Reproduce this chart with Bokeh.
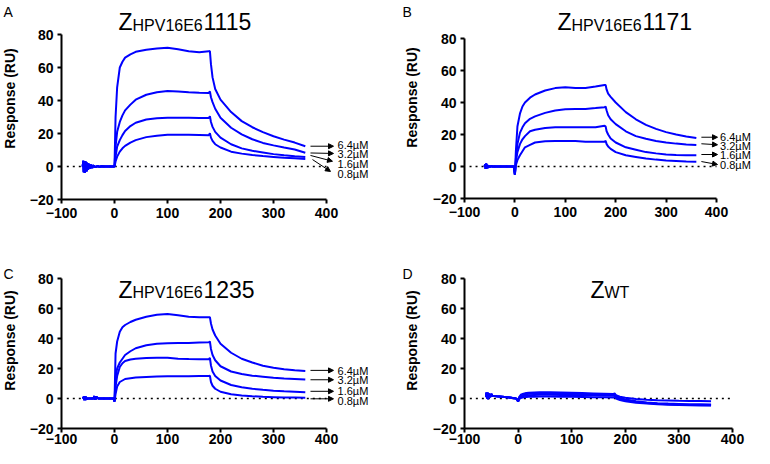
import math
from bokeh.plotting import figure
from bokeh.layouts import row, column
from bokeh.models import Range1d, FixedTicker, Label, Arrow, NormalHead, LinearAxis
from bokeh.embed import file_html
from bokeh.resources import INLINE

FONT = "Liberation Sans"
BLUE = "#0000FF"

# ---------------- data ----------------
x_ticks = [-100, 0, 100, 200, 300, 400]
y_ticks = [-20, 0, 20, 40, 60, 80]
x_limits = (-100, 400)
y_limits = (-20, 80)
zero_line_x = (-90, 400)
y_title = "Response (RU)"

conc_labels = ["6.4\u00b5M", "3.2\u00b5M", "1.6\u00b5M", "0.8\u00b5M"]

# time points of association (0-178 s) and dissociation (180-360 s)
t_kin = [0, 2, 5, 10, 15, 20, 30, 40, 60, 80, 100, 120, 140, 160, 178,
         180, 182, 185, 190, 200, 220, 240, 260, 280, 300, 320, 340, 360]

# Panel A  Z_HPV16E6 1115
a_base_t = [-60, -59, -58, -57, -56, -55, -54, -53, -52, -51, -50, -48, -46, -44,
            -42, -40, -36, -32, -28, -24, -20, -10, -2]
a_base_v = [0, 3.5, -3.5, 3, -3.8, 3.2, -3, 2.5, -2.8, 2, -2, 1.5, -1.2, 1,
            -0.8, 0.6, -0.4, 0.3, -0.2, 0.1, 0, 0, 0]
a_64 = [0, 30, 48, 60, 63.5, 66, 68, 69.5, 70.8, 71.5, 72, 71, 69.8, 69.3, 69.8,
        70, 62, 54, 47, 40.5, 33, 27.5, 23.8, 20.8, 18.3, 16.3, 14.5, 12.3]
a_32 = [0, 12, 21, 27, 31, 34, 37.5, 40.5, 43.5, 45, 45.7, 45.5, 45, 44.7, 44.6,
        45.5, 42, 39, 35, 29.5, 23.5, 19.5, 16.5, 14.3, 12.8, 11.5, 10.3, 8.3]
a_16 = [0, 6, 12, 16, 19, 21.5, 24.5, 26.5, 28.5, 29.3, 29.5, 29.5, 29.5, 29.4, 29.4,
        30.5, 27, 24, 21, 17.5, 13.5, 11, 9.5, 8.5, 7.5, 6.8, 6.2, 5.7]
a_08 = [0, 3, 6, 9, 11, 12.5, 14.5, 16, 17.8, 18.7, 19.2, 19.2, 19.2, 19.1, 19,
        20.2, 17.5, 15.5, 13.5, 11.5, 9, 7.8, 7, 6.3, 5.8, 5.3, 5, 4.6]

# Panel B  Z_HPV16E6 1171
b_base_t = [-60, -59, -58, -57, -56, -55, -54, -52, -50, -47, -45, -40, -20, -5, -2]
b_base_v = [0, 1.5, -1.5, 1.8, -1.2, 1, -0.8, 0.5, -0.3, 0.3, 0, 0, 0, 0, 0]
b_64 = [-5, 10, 25, 33, 37.5, 40, 43, 45, 47.5, 49, 49.5, 49, 49, 50, 51,
        51, 48, 45.5, 43.5, 40, 34, 29.5, 26, 23.5, 21.5, 20, 18.8, 17.8]
b_32 = [-5, 5, 14, 21, 24.5, 27, 29.8, 31.3, 33.5, 35, 35.8, 36, 36, 36.5, 37,
        37.5, 35, 32, 29.5, 26.5, 22, 19, 17.3, 16, 15, 14.3, 13.8, 13.5]
b_16 = [-5, 3, 9, 14, 17, 19, 22, 23, 24, 24.5, 24.5, 24.5, 24.5, 24.5, 25.5,
        25, 22, 20, 17.5, 15, 12, 10.5, 9, 8.2, 7.5, 7.2, 7, 7]
b_08 = [-5, 1, 4, 7, 9.5, 12, 13.5, 15, 15.8, 16, 16, 16, 15.5, 15.5, 15.5,
        16, 14, 12.5, 11, 9, 7, 6, 5, 4.3, 3.8, 3.5, 3.2, 3]

# Panel C  Z_HPV16E6 1235
c_base_t = [-60, -58, -57, -56, -55, -54, -52, -50, -45, -40, -38, -37, -36, -35,
            -34, -30, -20, -5, -2]
c_base_v = [0, 1, -1, 1.5, -1, 1, -0.5, 0, 0, 0, 1.5, -0.8, 1.5, -0.5,
            1, 0, 0, 0, 0]
c_64 = [-2, 30, 38, 44.5, 47.5, 49, 51, 52.5, 54.5, 55.8, 56.3, 55.5, 54.5, 54.2, 54.2,
        54.2, 50, 46, 42, 36.5, 30.5, 26.5, 24, 21.8, 20.5, 19.5, 18.8, 18.3]
c_32 = [-2, 14, 20, 24, 26.5, 29, 31.5, 33.5, 35.5, 36.5, 36.8, 37, 37, 37.3, 37.5,
        38, 33, 29, 25.5, 21.5, 18, 16.3, 15.2, 14.5, 13.8, 13.3, 13, 12.6]
c_16 = [-2, 8, 15, 21, 23.5, 25, 26, 26.5, 27, 27.2, 27.2, 26.5, 26.3, 26.2, 26.2,
        27, 22, 18, 15, 12, 9, 7.5, 6.5, 5.8, 5.2, 4.8, 4.5, 4.2]
c_08 = [-2, 3, 8, 11, 12, 13, 13.5, 14, 14.3, 14.6, 14.8, 14.8, 14.8, 15, 15,
        15.3, 11, 8.5, 6.5, 4.5, 2.8, 2, 1.5, 1.1, 0.9, 0.7, 0.6, 0.5]

# Panel D  Z_WT
d_base_t = [-60, -59, -58, -57, -56, -55, -54, -53, -52, -50, -48, -40, -30, -20,
            -10, -4, -2]
d_base_v = [1, 4, 0, 4, -0.5, 3.5, 0.5, 3, 1, 3, 1.8, 1.5, 1.2, 0.8,
            0.4, 0, -0.5]
d_1 = [-2, 1, 2.5, 3.2, 3.6, 3.8, 4, 4.1, 4.1, 4, 3.8, 3.6, 3.4, 3.2, 3,
       3.5, 2.5, 1.8, 1.2, 0.5, -0.3, -0.8, -1.1, -1.3, -1.5, -1.6, -1.7, -1.8]
d_2 = [-2, 0.5, 1.8, 2.5, 2.9, 3.1, 3.3, 3.4, 3.4, 3.3, 3.2, 3, 2.8, 2.6, 2.5,
       3, 1.8, 1, 0.3, -0.6, -1.8, -2.6, -3.1, -3.4, -3.6, -3.8, -3.9, -4.0]
d_3 = [-2, 0, 1, 1.7, 2, 2.2, 2.4, 2.5, 2.5, 2.4, 2.3, 2.2, 2.1, 2, 1.9,
       2.3, 1.2, 0.5, -0.2, -1, -2.2, -3, -3.5, -3.9, -4.1, -4.3, -4.4, -4.5]
d_4 = [-2, -0.5, 0.3, 0.8, 1, 1.1, 1.2, 1.3, 1.3, 1.2, 1.1, 1.0, 0.9, 0.8, 0.7,
       1.2, 0.2, -0.4, -1, -1.8, -2.8, -3.4, -3.8, -4.1, -4.3, -4.5, -4.6, -4.7]

# ---------------- layout (picture pixels, origin at top-left of layout) ----------------
# ox/oy: origin of figure, w/h: size, ax: x of y axis, ay: y of x axis, sx/sy: px per unit
GA = dict(ox=0, oy=0, w=387, h=230, ax=61, ay=199, sx=0.53, sy=1.65, xtick_so=4)
GB = dict(ox=387, oy=0, w=367, h=230, ax=464, ay=198, sx=0.504, sy=1.6, xtick_so=4)
GC = dict(ox=0, oy=230, w=387, h=218, ax=61, ay=428, sx=0.53, sy=1.5, xtick_so=1)
GD = dict(ox=387, oy=230, w=367, h=218, ax=464, ay=428, sx=0.536, sy=1.5, xtick_so=1)


def px_to_data(g, px, py):
    return x_limits[0] + (px - g["ax"]) / g["sx"], y_limits[0] + (g["ay"] - py) / g["sy"]


def style_axis(ax):
    ax.axis_line_width = 2
    ax.axis_line_color = "black"
    ax.major_tick_line_width = 2
    ax.major_tick_line_color = "black"
    ax.major_tick_in = 0
    ax.major_tick_out = 4
    ax.minor_tick_line_color = None
    ax.major_label_text_font = FONT
    ax.major_label_text_font_style = "bold"
    ax.major_label_text_font_size = "14px"
    ax.major_label_text_color = "black"


def make_panel(g, base_t, base_v, curves, letter, letter_px, ylab_px, title_parts,
               arrows, label_x, label_ys):
    x0, y1 = px_to_data(g, g["ox"], g["oy"])
    x1, y0 = px_to_data(g, g["ox"] + g["w"], g["oy"] + g["h"])
    p = figure(width=g["w"], height=g["h"], x_range=Range1d(x0, x1),
               y_range=Range1d(y0, y1), output_backend="svg",
               toolbar_location=None, x_axis_type=None, y_axis_type=None,
               min_border=0)
    p.outline_line_color = None
    p.background_fill_color = "white"
    p.border_fill_color = "white"

    xa = LinearAxis(fixed_location=y_limits[0], bounds=x_limits,
                    ticker=FixedTicker(ticks=x_ticks))
    style_axis(xa)
    xa.major_label_standoff = g["xtick_so"]
    p.add_layout(xa, "below")

    ya = LinearAxis(fixed_location=x_limits[0], bounds=y_limits,
                    ticker=FixedTicker(ticks=y_ticks))
    style_axis(ya)
    ya.major_label_standoff = 4
    p.add_layout(ya, "left")

    # y axis title
    yx, yy = px_to_data(g, *ylab_px)
    p.add_layout(Label(x=yx, y=yy, text=y_title, angle=math.pi / 2, text_font=FONT,
                       text_font_style="bold", text_font_size="14px", text_align="center",
                       text_baseline="middle", text_color="black"))

    # dotted zero line
    p.line(list(zero_line_x), [0, 0], line_color="black", line_width=1.5, line_dash="2 4")

    for vals in curves:
        p.line(base_t + t_kin, base_v + vals, line_color=BLUE, line_width=2)

    lx, ly = px_to_data(g, *letter_px)
    p.add_layout(Label(x=lx, y=ly, text=letter, text_font=FONT, text_font_size="14px",
                       text_baseline="top", text_align="left", text_color="black"))
    for txt, tx, ty, size in title_parts:
        dx, dy = px_to_data(g, tx, ty)
        p.add_layout(Label(x=dx, y=dy, text=txt, text_font=FONT, text_font_size=size,
                           text_baseline="alphabetic", text_align="left", text_color="black"))
    for (xs, ys, xe, ye) in arrows:
        p.add_layout(Arrow(x_start=xs, y_start=ys, x_end=xe, y_end=ye, line_color="black",
                           line_width=1,
                           end=NormalHead(size=5, fill_color="black", line_color="black", line_width=1)))
    for txt, yv in zip(conc_labels if label_ys else [], label_ys):
        p.add_layout(Label(x=label_x, y=yv, text=txt, text_font=FONT, text_font_size="11px",
                           text_baseline="middle", text_align="left", text_color="black"))
    return p


pA = make_panel(GA, a_base_t, a_base_v, [a_64, a_32, a_16, a_08], "A", (3, 3), (9, 98),
                [("Z", 118, 21, "23px"), ("HPV16E6", 132, 25, "16px"), ("1115", 203, 21, "23px")],
                [(369.8, 12.3, 413.2, 12.3), (369.8, 8.2, 413.2, 7.9),
                 (369.8, 6.7, 411.3, 3.2), (373.6, 4.2, 407.5, -3.0)],
                420.8, [13.0, 7.3, 1.5, -4.5])
pB = make_panel(GB, b_base_t, b_base_v, [b_64, b_32, b_16, b_08], "B", (402, 3), (411, 97),
                [("Z", 557, 21, "23px"), ("HPV16E6", 571, 25, "16px"), ("1171", 642, 21, "23px")],
                [(370, 18.3, 402, 18.3), (370, 14.2, 402, 13.6),
                 (370, 7.5, 402, 7.5), (370, 3.1, 402, 1.25)],
                407, [18.3, 12.7, 6.9, 1.1])
pC = make_panel(GC, c_base_t, c_base_v, [c_64, c_32, c_16, c_08], "C", (3, 265), (9, 340),
                [("Z", 118, 289, "23px"), ("HPV16E6", 132, 292, "16px"), ("1235", 203, 289, "23px")],
                [(369.8, 18.75, 413.2, 18.75), (369.8, 12.5, 413.2, 12.5),
                 (369.8, 4.8, 413.2, 4.8), (369.8, -0.2, 413.2, -0.2)],
                420.8, [18.3, 12.1, 4.8, -1.4])
pD = make_panel(GD, d_base_t, d_base_v, [d_1, d_2, d_3, d_4], "D", (402, 265), (411, 340),
                [("Z", 590, 289, "23px"), ("WT", 604, 292, "16px")],
                [], 0, [])

layout = column(row(pA, pB), row(pC, pD))
open("out.html", "w").write(file_html(layout, INLINE))
